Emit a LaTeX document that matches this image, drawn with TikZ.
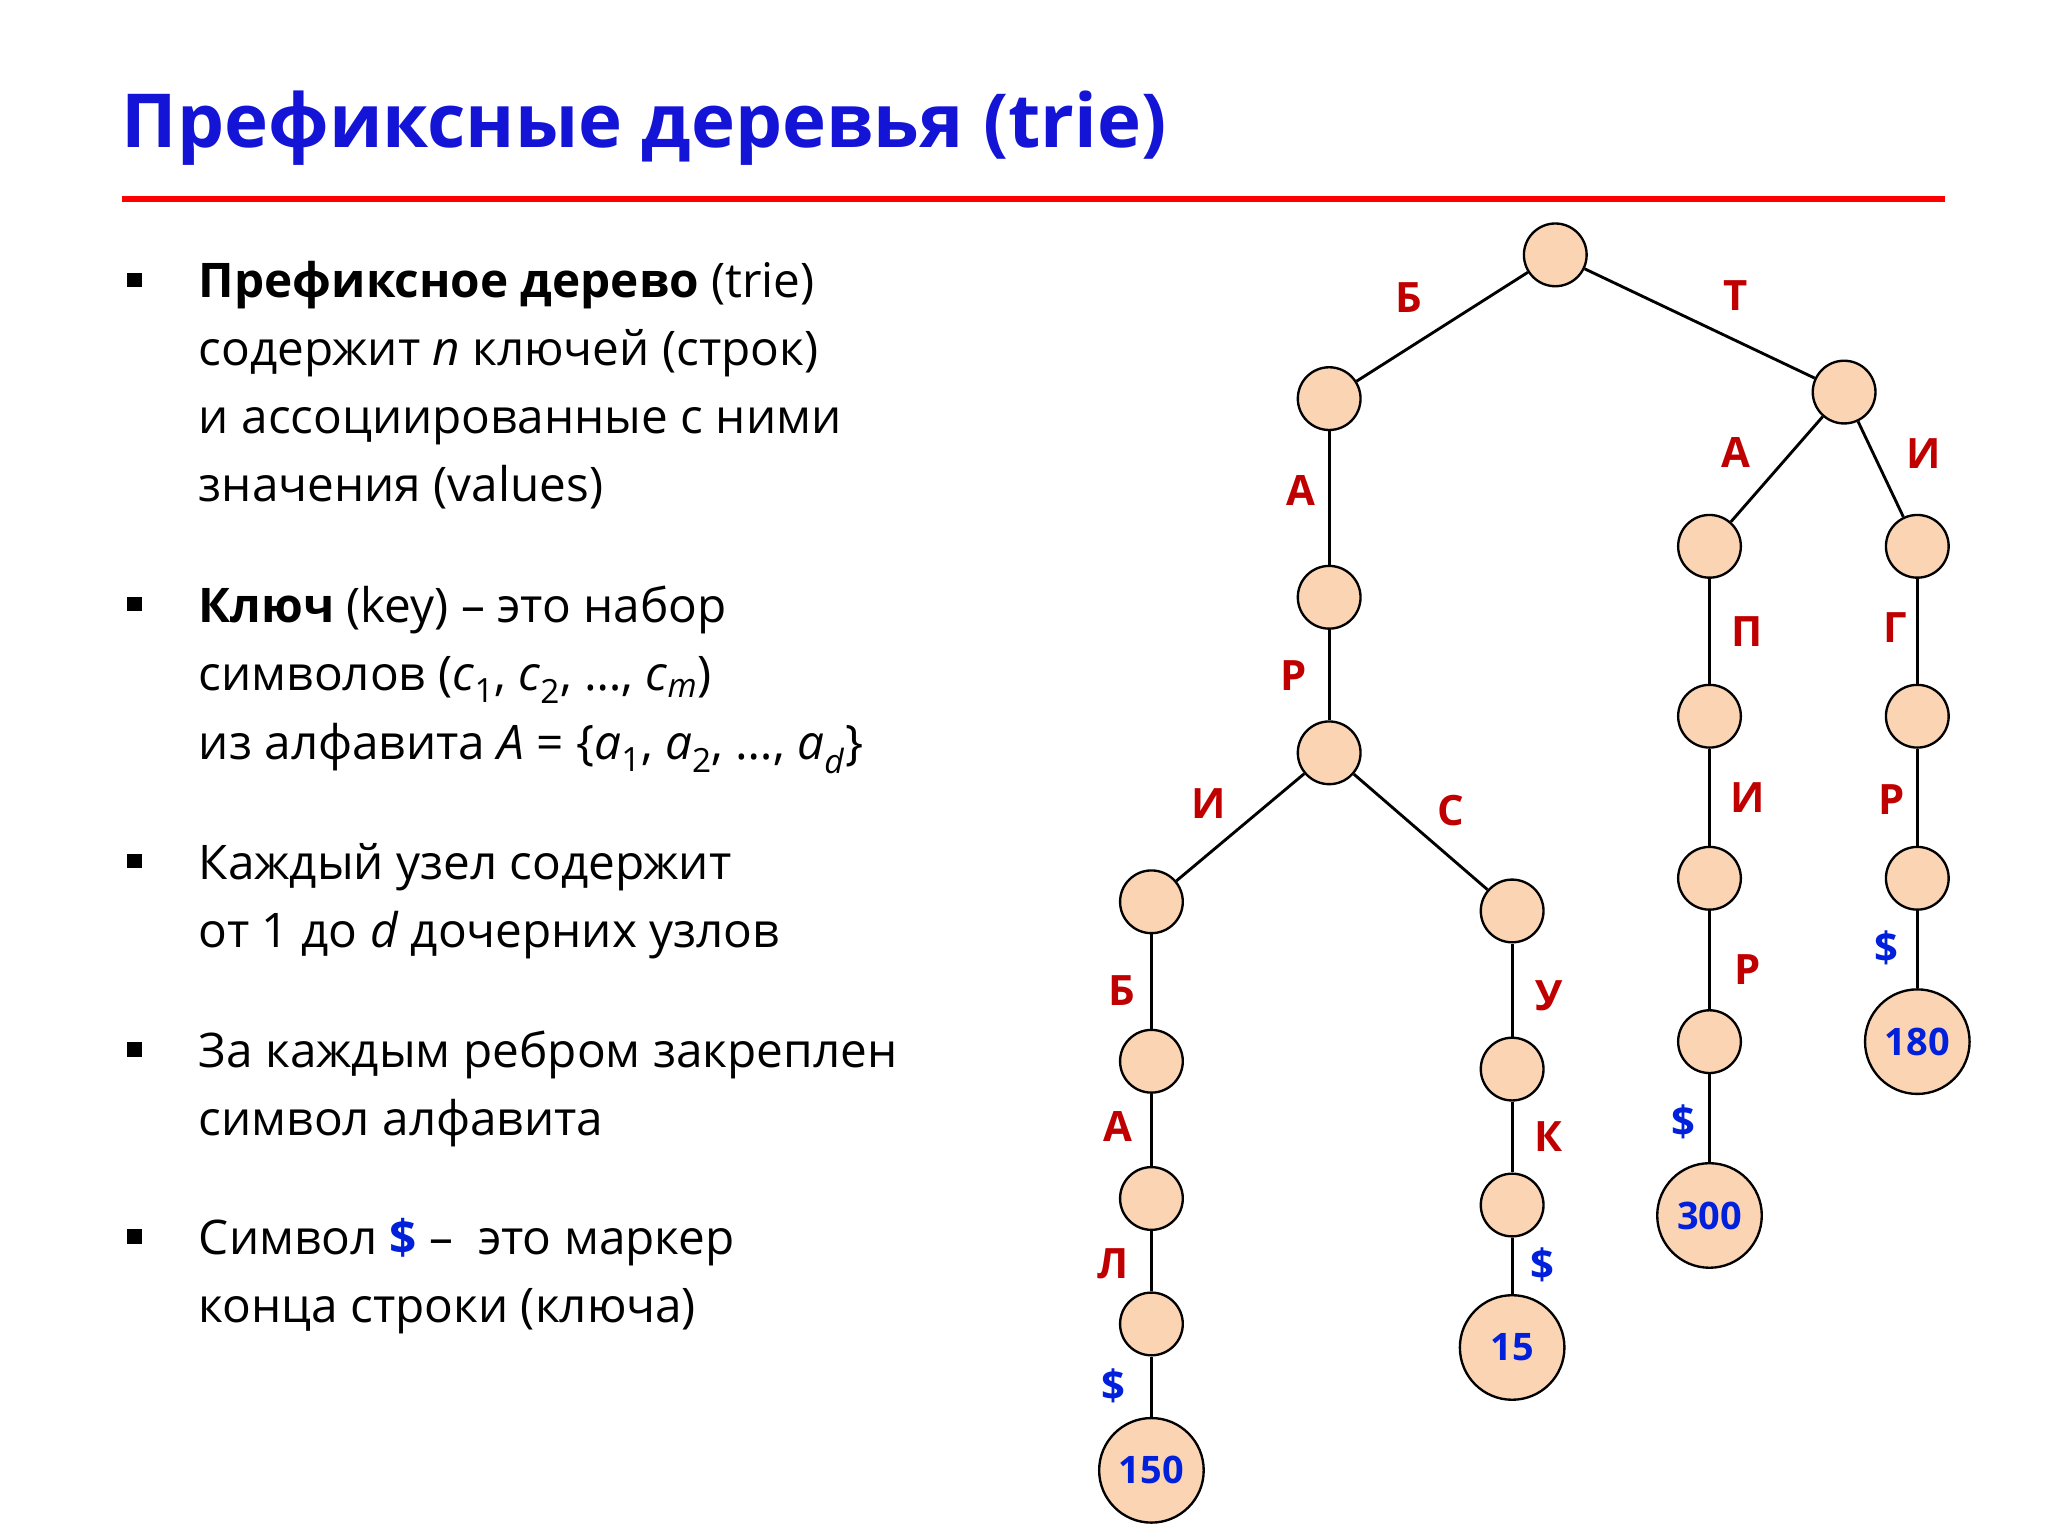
\documentclass[tikz,border=0pt]{standalone}
\usepackage{fontspec}
\setmainfont{Open Sans}
\definecolor{peach}{RGB}{251,212,180}
\definecolor{dred}{RGB}{192,0,0}
\definecolor{tblue}{RGB}{20,20,215}
\definecolor{dblue}{RGB}{0,32,220}
\begin{document}
\begin{tikzpicture}[x=1pt,y=-1pt,
  nd/.style={circle,draw,line width=1.8pt,fill=peach,minimum size=48pt,inner sep=0pt},
  leaf/.style={circle,draw,line width=1.8pt,fill=peach,minimum size=80pt,inner sep=0pt,font=\fontsize{29}{30}\selectfont\bfseries,text=dblue},
  lab/.style={font=\fontsize{32}{32}\selectfont\bfseries,text=dred},
  dol/.style={font=\fontsize{32}{32}\selectfont\bfseries,text=dblue},
  txt/.style={anchor=base west,font=\fontsize{36.5}{40}\selectfont,inner sep=0pt},
  bul/.style={fill=black,minimum size=11pt,inner sep=0pt},
  ed/.style={line width=2.2pt}]
\useasboundingbox (0,0) rectangle (1567,1175);
\node[anchor=base west,inner sep=0pt,text=tblue,font=\fontsize{57}{60}\selectfont\bfseries] (title) at (93,113) {Префиксные деревья (trie)};
\draw[red,line width=4.5pt] (93,152) -- (1488,152);
% bullets
\foreach \y/\n in {214/b1,462/b2,659/b3,803/b4,946/b5}{\node[bul] (\n) at (103,\y) {};}
\node[txt] (t1) at (152,228) {\textbf{Префиксное дерево} (trie)};
\node[txt] (t2) at (152,280) {содержит \textit{n} ключей (строк)};
\node[txt] (t3) at (152,332) {и ассоциированные с ними};
\node[txt] (t4) at (152,384) {значения (values)};
\node[txt] (t5) at (152,476) {\textbf{Ключ} (key) – это набор};
\node[txt] (t6) at (152,528) {символов (\textit{c}\textsubscript{1}, \textit{c}\textsubscript{2}, …, \textit{c}\textsubscript{\textit{m}})};
\node[txt] (t7) at (152,581) {из алфавита \textit{A} = \{\textit{a}\textsubscript{1}, \textit{a}\textsubscript{2}, …, \textit{a}\textsubscript{\textit{d}}\}};
\node[txt] (t8) at (152,673) {Каждый узел содержит};
\node[txt] (t9) at (152,725) {от 1 до \textit{d} дочерних узлов};
\node[txt] (t10) at (152,817) {За каждым ребром закреплен};
\node[txt] (t11) at (152,869) {символ алфавита};
\node[txt] (t12) at (152,960) {Символ \textcolor{dblue}{\textbf{\$}} –\ \ это маркер};
\node[txt] (t13) at (152,1012) {конца строки (ключа)};
% tree
\node[nd] (r) at (1190,195) {};
\node[nd] (b1) at (1017,305) {};
\node[nd] (t) at (1411,300) {};
\node[nd] (a1) at (1017,457) {};
\node[nd] (p1) at (1017,576) {};
\node[nd] (i1) at (881,690) {};
\node[nd] (c1) at (1157,697) {};
\node[nd] (b2) at (881,812) {};
\node[nd] (a2) at (881,917) {};
\node[nd] (l) at (881,1013) {};
\node[leaf] (v150) at (881,1125) {150};
\node[nd] (u) at (1157,818) {};
\node[nd] (k) at (1157,922) {};
\node[leaf] (v15) at (1157,1031) {15};
\node[nd] (ta) at (1308,418) {};
\node[nd] (tp) at (1308,548) {};
\node[nd] (ti) at (1308,672) {};
\node[nd] (tr) at (1308,797) {};
\node[leaf] (v300) at (1308,930) {300};
\node[nd] (ii) at (1467,418) {};
\node[nd] (ig) at (1467,548) {};
\node[nd] (ir) at (1467,672) {};
\node[leaf] (v180) at (1467,797) {180};
\draw[ed] (r)--(b1); \draw[ed] (r)--(t);
\draw[ed] (b1)--(a1); \draw[ed] (a1)--(p1);
\draw[ed] (p1)--(i1); \draw[ed] (p1)--(c1);
\draw[ed] (i1)--(b2); \draw[ed] (b2)--(a2); \draw[ed] (a2)--(l); \draw[ed] (l)--(v150);
\draw[ed] (c1)--(u); \draw[ed] (u)--(k); \draw[ed] (k)--(v15);
\draw[ed] (t)--(ta); \draw[ed] (ta)--(tp); \draw[ed] (tp)--(ti); \draw[ed] (ti)--(tr); \draw[ed] (tr)--(v300);
\draw[ed] (t)--(ii); \draw[ed] (ii)--(ig); \draw[ed] (ig)--(ir); \draw[ed] (ir)--(v180);
% labels
\node[lab] (l1) at (1078,228) {Б};
\node[lab] (l2) at (1328,226) {Т};
\node[lab] (l3) at (995,375) {А};
\node[lab] (l4) at (990,517) {Р};
\node[lab] (l5) at (925,615) {И};
\node[lab] (l6) at (1110,620) {С};
\node[lab] (l7) at (858,758) {Б};
\node[lab] (l8) at (855,862) {А};
\node[lab] (l9) at (852,967) {Л};
\node[dol] (l10) at (852,1060) {\$};
\node[lab] (l11) at (1185,762) {У};
\node[lab] (l12) at (1185,870) {К};
\node[dol] (l13) at (1180,968) {\$};
\node[lab] (l14) at (1328,346) {А};
\node[lab] (l15) at (1472,347) {И};
\node[lab] (l16) at (1337,483) {П};
\node[lab] (l17) at (1337,610) {И};
\node[lab] (l18) at (1337,742) {Р};
\node[dol] (l19) at (1288,858) {\$};
\node[lab] (l20) at (1450,480) {Г};
\node[lab] (l21) at (1447,612) {Р};
\node[dol] (l22) at (1443,725) {\$};
\end{tikzpicture}
\end{document}
